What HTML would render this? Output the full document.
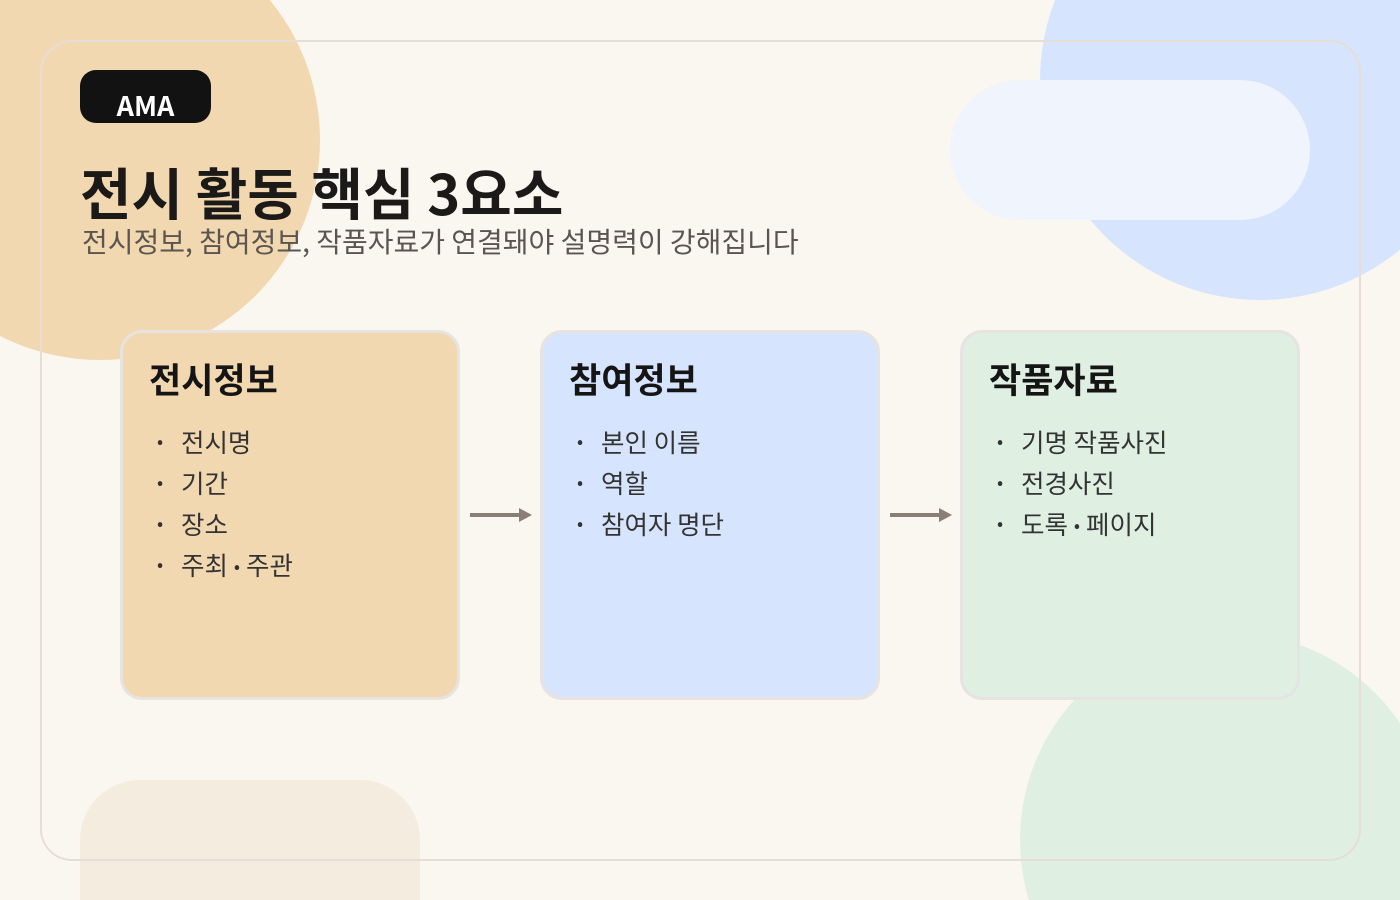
<!DOCTYPE html>
<html><head><meta charset="utf-8"><style>
*{margin:0;padding:0;box-sizing:border-box}
html,body{width:1400px;height:900px;overflow:hidden}
body{background:#faf7f1;font-family:"Noto Sans CJK KR","Liberation Sans",sans-serif}
#w{position:relative;width:1400px;height:900px;overflow:hidden}
.a{position:absolute}
.card{position:absolute;top:330px;width:340px;height:370px;border:3px solid #e6e3e0;border-radius:22px}
.card h2{position:absolute;left:26px;top:21px;font-size:35px;font-weight:700;color:#151515;line-height:50px}
.card ul{position:absolute;left:34px;top:88px;list-style:none}
.card li{font-size:25.5px;color:#333;height:41px;line-height:41px}
.card li:before{content:"•";display:inline-block;width:24px;font-size:18px;vertical-align:top}
.d{font-size:18px;margin:0 6px;vertical-align:2px}
.arrow{position:absolute;top:513px;height:4px;width:50px;background:#8a7f76}
.arrow:after{content:"";position:absolute;right:-12px;top:-5px;border-left:13px solid #8a7f76;border-top:7px solid transparent;border-bottom:7px solid transparent}
</style></head><body><div id="w">
<div class="a" style="left:-120px;top:-80px;width:440px;height:440px;border-radius:50%;background:#f2d8b0"></div>
<div class="a" style="left:1040px;top:-140px;width:440px;height:440px;border-radius:50%;background:#d6e5fd"></div>
<div class="a" style="left:1020px;top:632px;width:416px;height:416px;border-radius:50%;background:#dff0e2"></div>
<div class="a" style="left:950px;top:80px;width:360px;height:140px;border-radius:70px;background:#eff4fd"></div>
<div class="a" style="left:80px;top:780px;width:340px;height:120px;border-radius:60px 60px 0 0;background:#f5ece0"></div>
<div class="a" style="left:40px;top:40px;width:1321px;height:821px;border:2px solid #e6ded6;border-radius:32px"></div>
<div class="a" style="left:80px;top:70px;width:131px;height:53px;border-radius:16px;background:#121212;color:#fff;font-size:27px;font-weight:700;text-align:center;line-height:70px;overflow:hidden">AMA</div>
<div class="a" style="left:80px;top:152px;font-size:56px;font-weight:700;color:#1c1a18;line-height:80px">전시 활동 핵심 3요소</div>
<div class="a" style="left:82px;top:221px;font-size:28px;color:#5a5550;line-height:40px">전시정보, 참여정보, 작품자료가 연결돼야 설명력이 강해집니다</div>
<div class="card" style="left:120px;background:#f2d8b0"><h2>전시정보</h2><ul><li>전시명</li><li>기간</li><li>장소</li><li>주최<span class="d">•</span>주관</li></ul></div>
<div class="card" style="left:540px;background:#d6e5fd"><h2>참여정보</h2><ul><li>본인 이름</li><li>역할</li><li>참여자 명단</li></ul></div>
<div class="card" style="left:960px;background:#dff0e2"><h2>작품자료</h2><ul><li>기명 작품사진</li><li>전경사진</li><li>도록<span class="d">•</span>페이지</li></ul></div>
<div class="arrow" style="left:470px"></div>
<div class="arrow" style="left:890px"></div>
</div></body></html>
